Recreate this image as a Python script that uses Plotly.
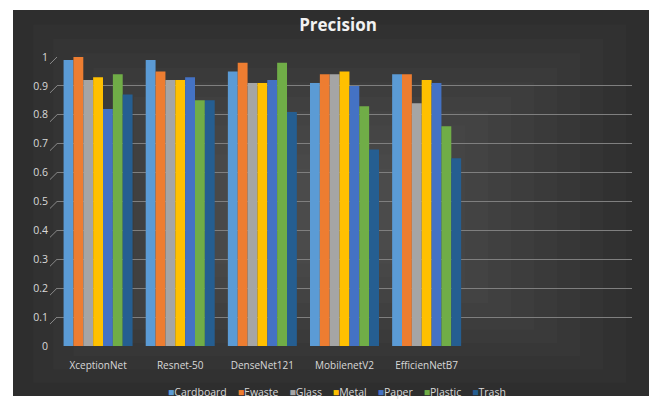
import plotly.graph_objects as go

models = ["XceptionNet", "Resnet-50", "DenseNet121", "MobilenetV2", "EfficienNetB7"]
series_names = ["Cardboard", "Ewaste", "Glass", "Metal", "Paper", "Plastic", "Trash"]
cardboard = [0.99, 0.99, 0.95, 0.91, 0.94]
ewaste = [1.00, 0.95, 0.98, 0.94, 0.94]
glass = [0.92, 0.92, 0.91, 0.94, 0.84]
metal = [0.93, 0.92, 0.91, 0.95, 0.92]
paper = [0.82, 0.93, 0.92, 0.90, 0.91]
plastic = [0.94, 0.85, 0.98, 0.83, 0.76]
trash = [0.87, 0.85, 0.81, 0.68, 0.65]
y_ticks = [0, 0.1, 0.2, 0.3, 0.4, 0.5, 0.6, 0.7, 0.8, 0.9, 1]
y_tick_labels = ["0", "0.1", "0.2", "0.3", "0.4", "0.5", "0.6", "0.7", "0.8", "0.9", "1"]

values = [cardboard, ewaste, glass, metal, paper, plastic, trash]
colors = ["#5B9BD5", "#ED7D31", "#A5A5A5", "#FFC000", "#4472C4", "#70AD47", "#255E91"]

W, H = 657, 401
OFF = 8  # page body margin offset in the screenshot
# target plot area in screenshot pixels: x 57..632, y 57..346
ML = 57 - OFF
MT = 57 - OFF
MR = W - (632 - OFF)
MB = H - (346 - OFF)
pw, ph = W - ML - MR, H - MT - MB

def px_x(p):
    return (p - OFF - ML) / pw

def px_y(p):
    return (H - MB - (p - OFF)) / ph

fig = go.Figure()
for name, vals, col in zip(series_names, values, colors):
    fig.add_trace(go.Bar(
        x=models, y=vals, name=name,
        marker=dict(color=col, line=dict(width=0)),
    ))

# dark chart background with soft lightening towards the centre
bx0, bx1, by0, by1 = px_x(13), px_x(649), px_y(396), px_y(10)
shapes = [dict(type="rect", xref="paper", yref="paper", x0=bx0, x1=bx1,
               y0=by0, y1=by1, fillcolor="#2b2b2b", line=dict(width=0), layer="below")]
steps = 12
for i in range(steps):
    f = i / steps
    shapes.append(dict(type="rect", xref="paper", yref="paper",
                       x0=bx0 + f * 0.42, x1=bx1 - f * 0.48,
                       y0=by0 + f * 0.55, y1=by1 - f * 0.6,
                       fillcolor="rgba(255,255,255,0.016)", line=dict(width=0), layer="below"))
# slanted 3D tick marks on the value axis
for t in y_ticks:
    shapes.append(dict(type="line", xref="paper", yref="y",
                       x0=px_x(50), x1=px_x(57), y0=t - 0.024, y1=t,
                       line=dict(color="#8a8a8a", width=1), layer="below"))

legend_parts = []
for name, col in zip(series_names, colors):
    legend_parts.append(f"<span style='color:{col}'>■</span>{name}")
legend_text = "&#160;&#160;&#160;&#160;".join(legend_parts)

fig.update_layout(
    width=W, height=H,
    margin=dict(l=ML, r=MR, t=MT, b=MB, autoexpand=False),
    paper_bgcolor="white",
    plot_bgcolor="rgba(0,0,0,0)",
    shapes=shapes,
    barmode="group",
    bargap=0.16,
    bargroupgap=0,
    showlegend=False,
    title=dict(text="<b>Precision</b>", xref="paper", x=px_x(338), xanchor="center",
               yref="container", y=1 - (25 - OFF) / H, yanchor="middle",
               font=dict(family="Open Sans", size=17, color="#f2f2f2")),
    font=dict(family="Open Sans", size=10, color="#d9d9d9"),
    xaxis=dict(
        type="category", range=[-0.5, 6.5], showgrid=False, zeroline=False,
        showline=False, ticks="", ticklabelstandoff=12,
        tickfont=dict(size=10, color="#d9d9d9"),
    ),
    yaxis=dict(
        range=[0, 1.0], tickvals=y_ticks, ticktext=y_tick_labels,
        showgrid=True, gridcolor="#7f7f7f", gridwidth=1, zeroline=False,
        showline=False, ticks="", ticklabelstandoff=8,
        tickfont=dict(size=10.5, color="#d9d9d9"),
    ),
    annotations=[dict(
        text=legend_text, xref="paper", yref="paper",
        x=px_x(337), y=px_y(392), xanchor="center", yanchor="middle",
        showarrow=False, font=dict(family="Open Sans", size=10.5, color="#d9d9d9"),
    )],
)
fig.update_traces(cliponaxis=False)

fig.write_html("out.html")
